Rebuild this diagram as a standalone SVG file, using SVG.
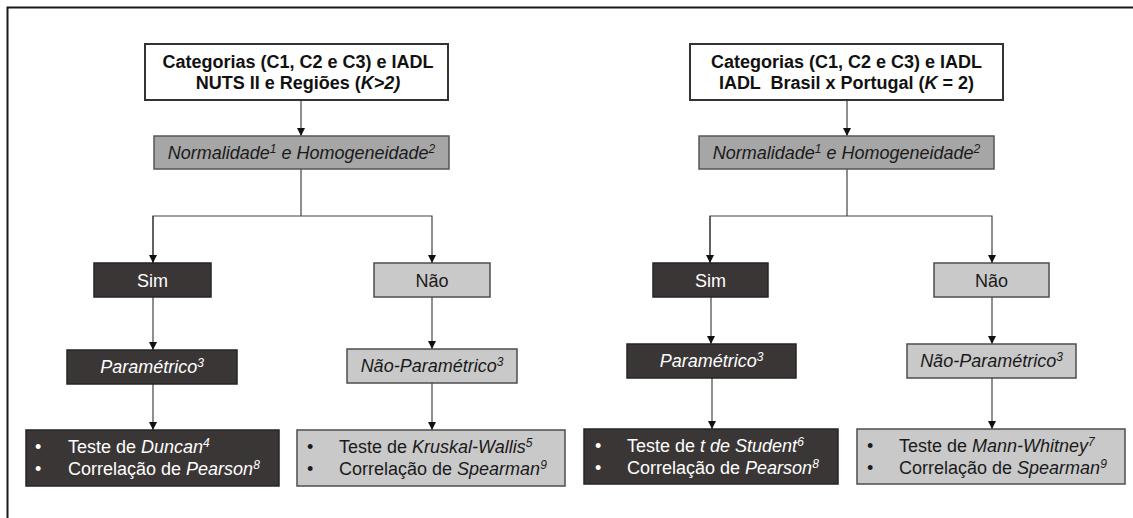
<svg xmlns="http://www.w3.org/2000/svg" width="1133" height="518" viewBox="0 0 1133 518">
<defs>
<style>
text{font-family:"Liberation Sans",Arial,sans-serif;font-size:18px;}
.b{font-weight:bold;fill:#111;}
.c{text-anchor:middle;}
.i{font-style:italic;}
.w{fill:#fff;}
.k{fill:#1a1a1a;}
.white{fill:#fff;stroke:#333;stroke-width:2;}
.mid{fill:#a6a6a6;stroke:#555;stroke-width:1.5;}
.dark{fill:#3a3636;stroke:#262424;stroke-width:1.5;}
.light{fill:#c9c9c9;stroke:#4d4d4d;stroke-width:1.5;}
.ln{fill:none;stroke:#444;stroke-width:1.2;}
</style>
<marker id="ah" viewBox="0 0 10 10" refX="10" refY="5" markerWidth="8" markerHeight="9" markerUnits="userSpaceOnUse" orient="auto">
<path d="M0,0 L10,5 L0,10 z" fill="#111"/>
</marker>
</defs>
<rect x="0" y="0" width="1133" height="518" fill="#fff"/>
<path d="M7.5,518 V7.5 H1133" fill="none" stroke="#1a1a1a" stroke-width="2"/>

<g id="connectors">
<path class="ln" d="M301,100 V136" marker-end="url(#ah)"/>
<path class="ln" d="M301,169 V216"/>
<path class="ln" d="M153,263 V216 H432 V263" marker-end="url(#ah)"/>
<path class="ln" d="M153,216 V263" marker-end="url(#ah)"/>
<path class="ln" d="M153,297 V350" marker-end="url(#ah)"/>
<path class="ln" d="M432,297 V349" marker-end="url(#ah)"/>
<path class="ln" d="M153,384 V430" marker-end="url(#ah)"/>
<path class="ln" d="M432,383 V430" marker-end="url(#ah)"/>

<path class="ln" d="M847,100 V136" marker-end="url(#ah)"/>
<path class="ln" d="M847,169 V216"/>
<path class="ln" d="M710,263 V216 H992 V263" marker-end="url(#ah)"/>
<path class="ln" d="M710,216 V263" marker-end="url(#ah)"/>
<path class="ln" d="M711,297 V344" marker-end="url(#ah)"/>
<path class="ln" d="M992,297 V344" marker-end="url(#ah)"/>
<path class="ln" d="M712,378 V429" marker-end="url(#ah)"/>
<path class="ln" d="M992,378 V429" marker-end="url(#ah)"/>
</g>

<g id="top-left">
<rect class="white" x="145" y="44" width="303" height="56"/>
<text class="b c" x="298" y="68">Categorias (C1, C2 e C3) e IADL</text>
<text class="b c" x="298" y="89">NUTS II e Regiões (<tspan class="i">K&gt;2)</tspan></text>
</g>
<g id="norm-left">
<rect class="mid" x="154" y="136" width="295" height="33"/>
<text class="c i k" x="301.5" y="159">Normalidade<tspan font-size="12" dy="-6">1</tspan><tspan dy="6"> e Homogeneidade</tspan><tspan font-size="12" dy="-6">2</tspan></text>
</g>
<g id="sim-left">
<rect class="dark" x="94" y="263" width="117" height="34"/>
<text class="c w" x="152.5" y="286.5">Sim</text>
</g>
<g id="nao-left">
<rect class="light" x="374" y="263" width="116" height="34"/>
<text class="c k" x="432" y="286.5">Não</text>
</g>
<g id="param-left">
<rect class="dark" x="67" y="350" width="170" height="34"/>
<text class="c i w" x="152" y="373">Paramétrico<tspan font-size="12" dy="-6">3</tspan></text>
</g>
<g id="nparam-left">
<rect class="light" x="347" y="349" width="170" height="34"/>
<text class="c i k" x="432" y="372">Não-Paramétrico<tspan font-size="12" dy="-6">3</tspan></text>
</g>
<g id="tests-left-param">
<rect class="dark" x="26" y="430" width="253" height="56"/>
<text class="w" x="35" y="453">•</text>
<text class="w" x="35" y="475">•</text>
<text class="w" x="68" y="453">Teste de <tspan class="i">Duncan</tspan><tspan class="i" font-size="12" dy="-6">4</tspan></text>
<text class="w" x="68" y="475">Correlação de <tspan class="i">Pearson</tspan><tspan class="i" font-size="12" dy="-6">8</tspan></text>
</g>
<g id="tests-left-nparam">
<rect class="light" x="297" y="430" width="268" height="56"/>
<text class="k" x="307" y="453">•</text>
<text class="k" x="307" y="475">•</text>
<text class="k" x="339" y="453">Teste de <tspan class="i">Kruskal-Wallis</tspan><tspan class="i" font-size="12" dy="-6">5</tspan></text>
<text class="k" x="339" y="475">Correlação de <tspan class="i">Spearman</tspan><tspan class="i" font-size="12" dy="-6">9</tspan></text>
</g>

<g id="top-right">
<rect class="white" x="690" y="44" width="313" height="56"/>
<text class="b c" x="846.5" y="68">Categorias (C1, C2 e C3) e IADL</text>
<text class="b c" x="846.5" y="89" xml:space="preserve">IADL  Brasil x Portugal (<tspan class="i">K</tspan> = 2)</text>
</g>
<g id="norm-right">
<rect class="mid" x="699" y="136" width="295" height="33"/>
<text class="c i k" x="846.5" y="159">Normalidade<tspan font-size="12" dy="-6">1</tspan><tspan dy="6"> e Homogeneidade</tspan><tspan font-size="12" dy="-6">2</tspan></text>
</g>
<g id="sim-right">
<rect class="dark" x="653" y="263" width="115" height="34"/>
<text class="c w" x="710.5" y="286.5">Sim</text>
</g>
<g id="nao-right">
<rect class="light" x="934" y="263" width="115" height="34"/>
<text class="c k" x="991.5" y="286.5">Não</text>
</g>
<g id="param-right">
<rect class="dark" x="627" y="344" width="169" height="34"/>
<text class="c i w" x="711.5" y="367">Paramétrico<tspan font-size="12" dy="-6">3</tspan></text>
</g>
<g id="nparam-right">
<rect class="light" x="907" y="344" width="169" height="34"/>
<text class="c i k" x="991.5" y="367">Não-Paramétrico<tspan font-size="12" dy="-6">3</tspan></text>
</g>
<g id="tests-right-param">
<rect class="dark" x="584" y="429" width="254" height="55"/>
<text class="w" x="595" y="452">•</text>
<text class="w" x="595" y="474">•</text>
<text class="w" x="627" y="452">Teste de <tspan class="i">t de Student</tspan><tspan class="i" font-size="12" dy="-6">6</tspan></text>
<text class="w" x="627" y="474">Correlação de <tspan class="i">Pearson</tspan><tspan class="i" font-size="12" dy="-6">8</tspan></text>
</g>
<g id="tests-right-nparam">
<rect class="light" x="857" y="429" width="268" height="55"/>
<text class="k" x="867" y="452">•</text>
<text class="k" x="867" y="474">•</text>
<text class="k" x="899" y="452">Teste de <tspan class="i">Mann-Whitney</tspan><tspan class="i" font-size="12" dy="-6">7</tspan></text>
<text class="k" x="899" y="474">Correlação de <tspan class="i">Spearman</tspan><tspan class="i" font-size="12" dy="-6">9</tspan></text>
</g>
</svg>
